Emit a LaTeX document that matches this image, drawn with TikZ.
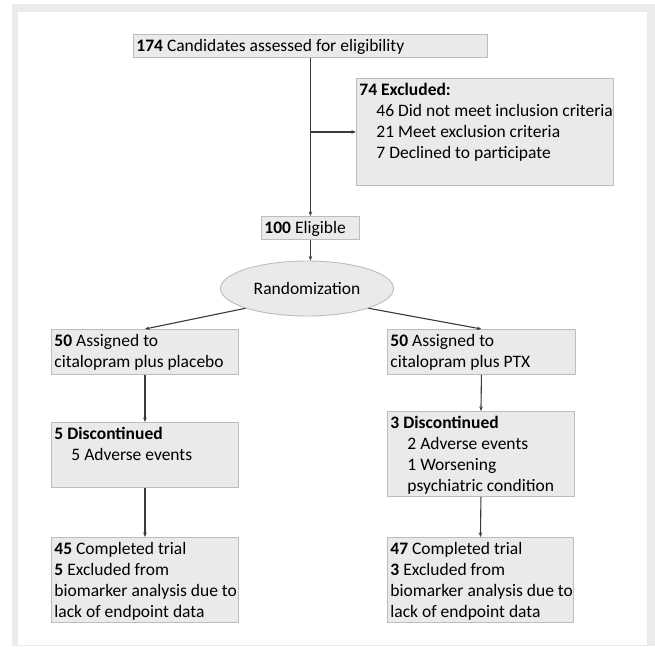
\documentclass[tikz,border=0pt]{standalone}
\usepackage{fontspec}
\setmainfont{Carlito}
\usetikzlibrary{arrows.meta,shapes.geometric}
\definecolor{framegray}{HTML}{EBEBEB}
\definecolor{boxfill}{HTML}{EAEAEA}
\definecolor{boxline}{HTML}{BDBDBD}
\definecolor{conn}{HTML}{3A3A3A}
\newcommand{\bx}[3]{\parbox[c][#2][t]{#1}{\raggedright\leftskip=3pt\vspace*{3pt}\strut #3}}
\newcommand{\ind}{\hspace*{17pt}}
\tikzset{
  flowbox/.style={draw=boxline, fill=boxfill, line width=0.9pt, inner sep=0pt, anchor=north west,
    font=\fontsize{17.5pt}{20.7pt}\selectfont, text=black},
  randell/.style={ellipse, draw=boxline, fill=boxfill, line width=0.9pt, minimum width=173pt,
    minimum height=55pt, inner sep=0pt, font=\fontsize{17.5pt}{20.7pt}\selectfont},
  conn/.style={draw=conn, line width=1.1pt},
  arr/.style={conn, -{Stealth[length=4.5pt,width=3.5pt]}}
}
\begin{document}
\begin{tikzpicture}[x=1pt,y=-1pt]
\useasboundingbox (0,0) rectangle (655,646);
\fill[framegray] (12,4) rectangle (655,646);
\fill[white] (18,12) rectangle (647,645);

\node[flowbox] (top) at (133,34) {\bx{354pt}{23pt}{\textbf{174} Candidates assessed for eligibility}};
\node[flowbox] (excl) at (356,78) {\bx{257pt}{107pt}{\textbf{74 Excluded:}\\
  \ind 46 Did not meet inclusion criteria\\
  \ind 21 Meet exclusion criteria\\
  \ind 7 Declined to participate}};
\node[flowbox] (elig) at (261,216) {\bx{98pt}{23pt}{\textbf{100} Eligible}};
\node[randell] (rand) at (307,288.5) {Randomization};

\node[flowbox] (a1) at (51,329) {\bx{187pt}{45pt}{\textbf{50} Assigned to\\citalopram plus placebo}};
\node[flowbox] (a2) at (387,329) {\bx{188pt}{45pt}{\textbf{50} Assigned to\\citalopram plus PTX}};

\node[flowbox] (d1) at (51,422) {\bx{187pt}{65pt}{\textbf{5 Discontinued}\\
  \ind 5 Adverse events}};
\node[flowbox] (d2) at (387,411) {\bx{187pt}{85pt}{\textbf{3 Discontinued}\\
  \ind 2 Adverse events\\
  \ind 1 Worsening\\
  \ind psychiatric condition}};

\node[flowbox] (c1) at (51,537) {\bx{187pt}{85pt}{\textbf{45} Completed trial\\
  \textbf{5} Excluded from\\
  biomarker analysis due to\\
  lack of endpoint data}};
\node[flowbox] (c2) at (387,537) {\bx{186pt}{85pt}{\textbf{47} Completed trial\\
  \textbf{3} Excluded from\\
  biomarker analysis due to\\
  lack of endpoint data}};

\draw[arr] (top.south) -- (elig.north);
\coordinate (branch) at (top.south |- excl.west);
\draw[arr] (branch) -- (excl.west);
\draw[arr] (elig.south) -- (elig.south |- rand.north);
\draw[arr] (rand.south west) -- (a1.north);
\draw[arr] (rand.south east) -- (a2.north);
\draw[arr] (a1.south) -- (d1.north);
\draw[arr] (a2.south) -- (d2.north);
\draw[arr] (d1.south) -- (c1.north);
\draw[arr] (d2.south) -- (c2.north);
\end{tikzpicture}
\end{document}
